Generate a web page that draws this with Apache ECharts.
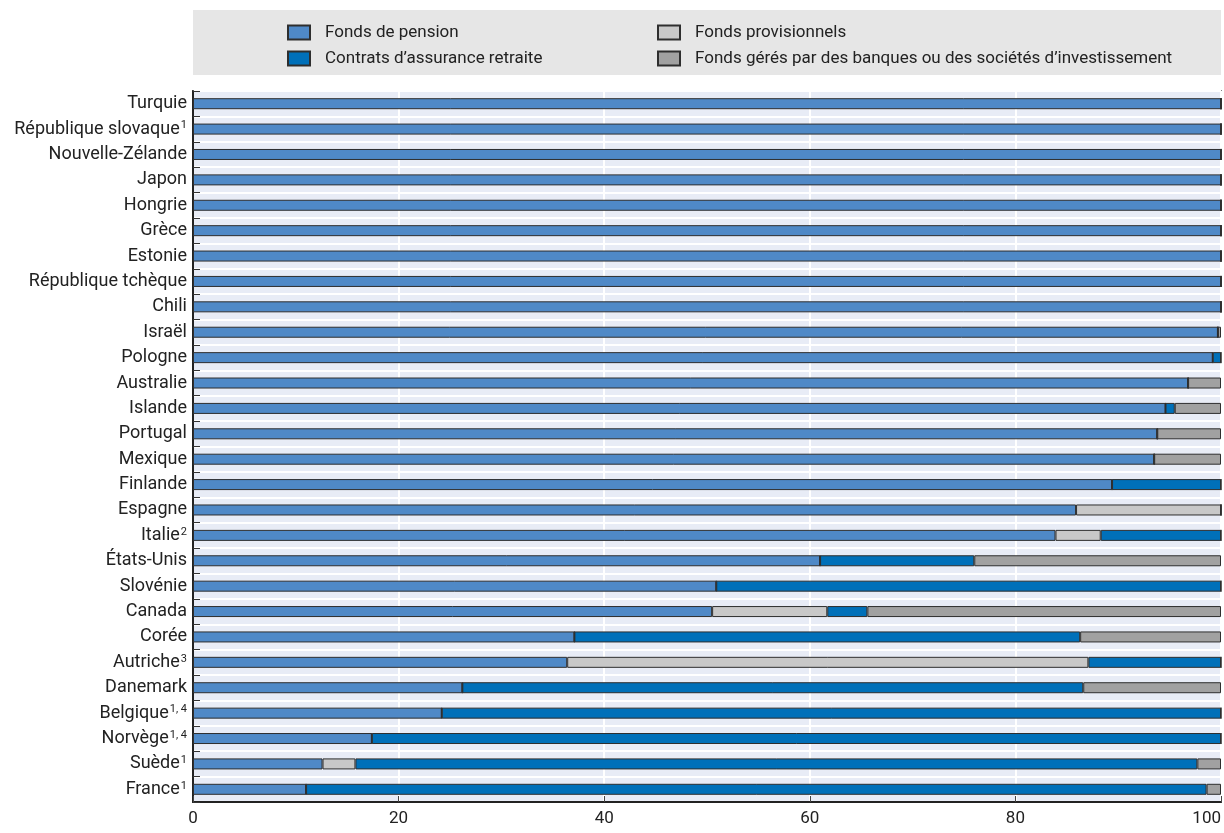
<!DOCTYPE html>
<html><head><meta charset="utf-8">
<script src="https://cdn.jsdelivr.net/npm/echarts@6/dist/echarts.min.js"></script>
<style>html,body{margin:0;padding:0;background:#fff}#c{width:1224px;height:833px}</style>
</head><body><div id="c"></div>
<script>
const countries = ["Turquie","République slovaque|1","Nouvelle-Zélande","Japon","Hongrie","Grèce","Estonie","République tchèque","Chili","Israël","Pologne","Australie","Islande","Portugal","Mexique","Finlande","Espagne","Italie|2","États-Unis","Slovénie","Canada","Corée","Autriche|3","Danemark","Belgique|1, 4","Norvège|1, 4","Suède|1","France|1"];
const seriesNames = ["Fonds de pension","Contrats d’assurance retraite","Fonds provisionnels","Fonds gérés par des banques ou des sociétés d’investissement"];
const pension      = [100,100,100,100,100,100,100,100,100,99.7,99.2,96.8,94.6,93.8,93.5,89.4,85.9,83.9,61.0,50.9,50.5,37.1,36.4,26.2,24.2,17.4,12.6,11.0];
const provisionnels= [0,0,0,0,0,0,0,0,0,0,0,0,0,0,0,0,14.1,4.4,0,0,11.2,0,50.7,0,0,0,3.2,0];
const contrats     = [0,0,0,0,0,0,0,0,0,0,0.8,0,0.9,0,0,10.6,0,11.7,15.0,49.1,3.9,49.2,12.9,60.4,75.8,82.6,81.9,87.6];
const geres        = [0,0,0,0,0,0,0,0,0,0.3,0,3.2,4.5,6.2,6.5,0,0,0,24.0,0,34.4,13.7,0,13.4,0,0,2.3,1.4];
const xTicks = [0,20,40,60,80,100];

const colors = {pension:'#4f89c7', contrats:'#0070b9', prov:'#c8c8c8', geres:'#a1a1a1'};
const FONT = 'Roboto';
const border = {borderColor:'#2e2e2e', borderWidth:1};

function mk(name, data, color){
  return {name, type:'bar', stack:'s', data, barWidth:11,
    itemStyle:Object.assign({color}, border), emphasis:{disabled:true}};
}

const legendCommon = {orient:'vertical', top:19, itemWidth:22, itemHeight:14, itemGap:9, icon:'rect',
  textStyle:{fontFamily:FONT, fontSize:17, color:'#222', padding:[0,0,0,10]}};

const chart = echarts.init(document.getElementById('c'), null, {renderer:'canvas'});
chart.setOption({
  animation:false,
  textStyle:{fontFamily:FONT},
  graphic:[{type:'rect', left:193, top:10, shape:{width:1028, height:65}, style:{fill:'#e6e6e6'}, z:-1}],
  legend:[
    Object.assign({data:[seriesNames[0], seriesNames[1]], left:282}, legendCommon),
    Object.assign({data:[seriesNames[2], seriesNames[3]], left:652}, legendCommon)
  ],
  grid:{left:193, right:3, top:91, bottom:31, show:true, backgroundColor:'#e8ecf6', borderColor:'#222', borderWidth:1.5, containLabel:false, outerBoundsMode:'none'},
  xAxis:{type:'value', min:0, max:100, interval:20,
    axisLine:{show:true, lineStyle:{color:'#222', width:2}},
    axisTick:{show:true, inside:true, length:6, lineStyle:{color:'#444'}},
    splitLine:{show:true, lineStyle:{color:'#ffffff', width:2}},
    axisLabel:{fontFamily:FONT, fontSize:17, color:'#222', margin:8, alignMaxLabel:'right',
      formatter:v=> xTicks.includes(v) ? String(v) : ''}},
  yAxis:{type:'category', inverse:true, data:countries,
    axisLine:{show:true, lineStyle:{color:'#222', width:2}},
    axisTick:{show:true, inside:true, length:7, lineStyle:{color:'#333'}},
    splitLine:{show:true, lineStyle:{color:'#ffffff', width:2}},
    axisLabel:{fontFamily:FONT, fontSize:18, color:'#222', margin:6,
      formatter:v=>{const p=v.split('|'); return p.length>1 ? '{b|'+p[0]+'}{s|'+p[1]+'}' : '{b|'+p[0]+'}';},
      rich:{b:{fontFamily:FONT, fontSize:18, color:'#222'}, s:{fontFamily:FONT, fontSize:11, color:'#222', verticalAlign:'top', padding:[0,0,7,1]}}}},
  series:[
    mk(seriesNames[0], pension, colors.pension),
    mk(seriesNames[2], provisionnels, colors.prov),
    mk(seriesNames[1], contrats, colors.contrats),
    mk(seriesNames[3], geres, colors.geres)
  ]
});
</script></body></html>
